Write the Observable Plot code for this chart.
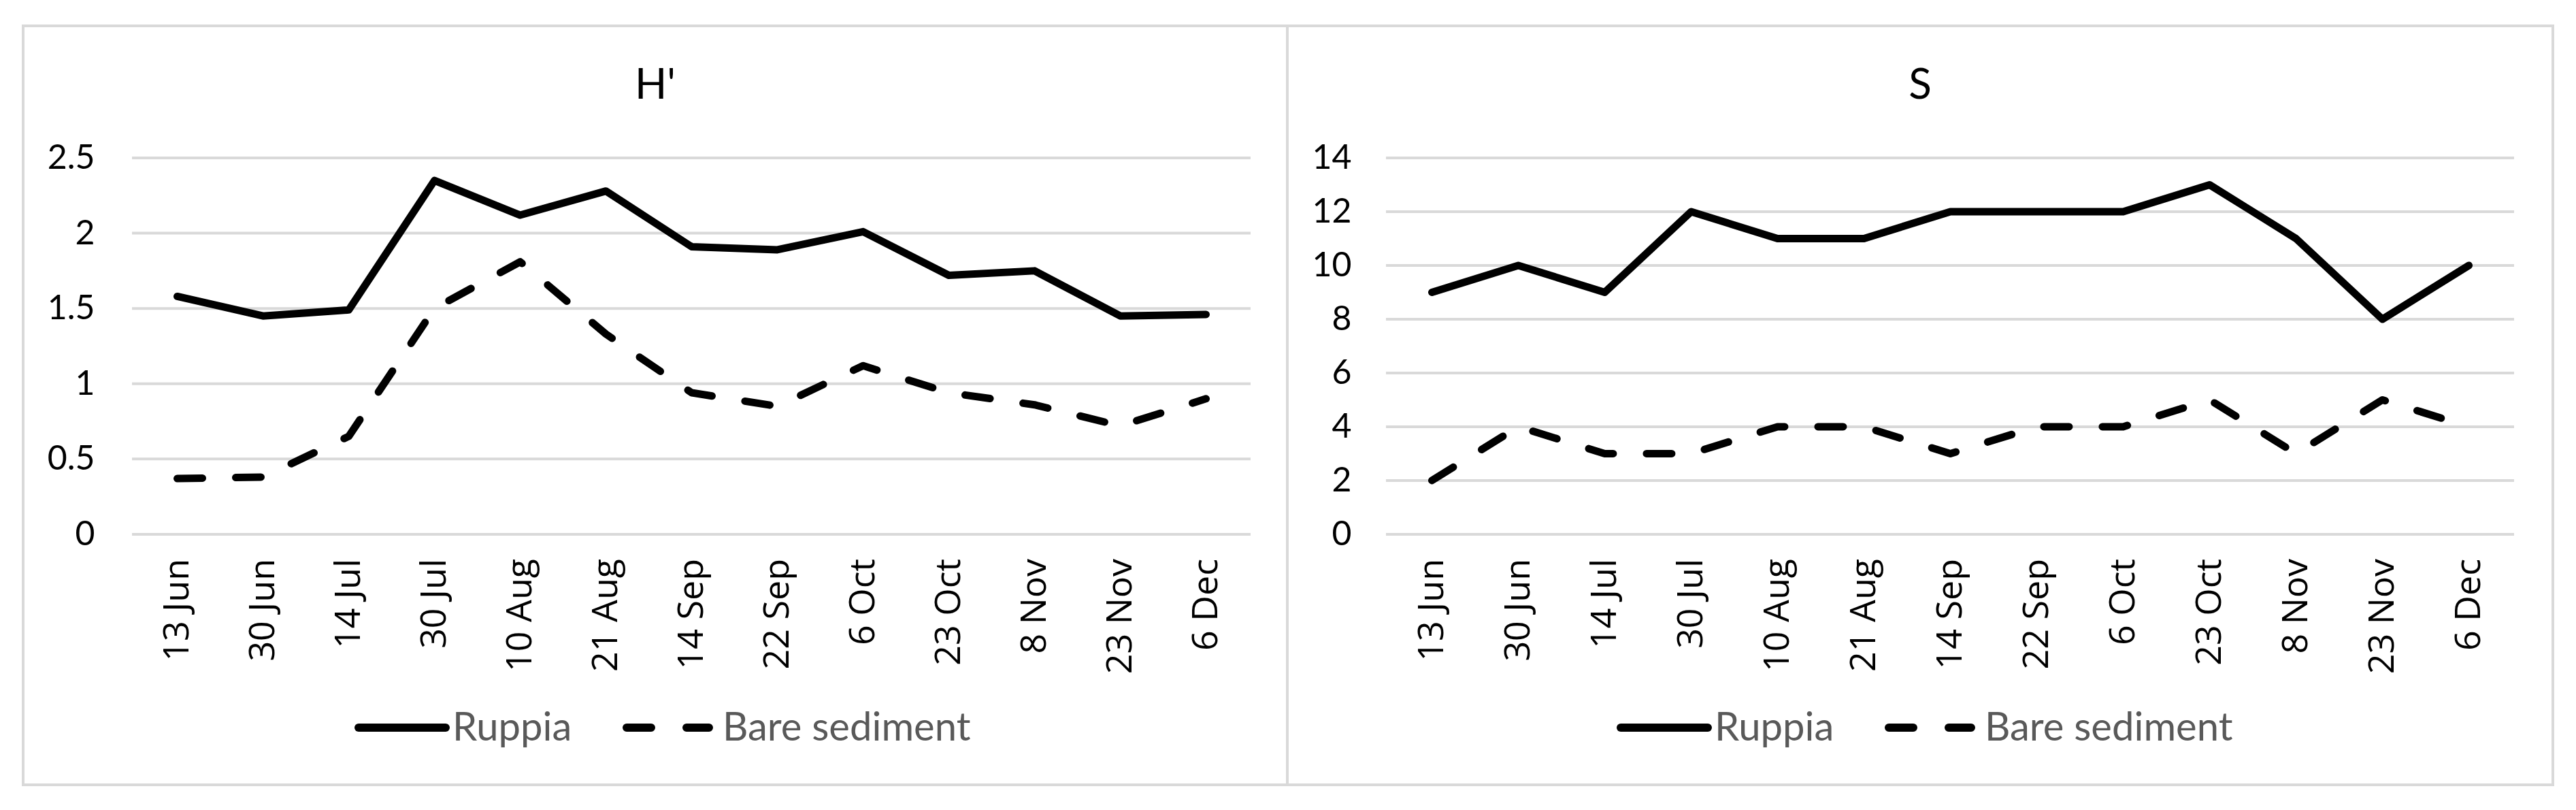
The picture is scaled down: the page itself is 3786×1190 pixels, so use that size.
<!DOCTYPE html>
<html><head><meta charset="utf-8">
<script src="https://cdn.jsdelivr.net/npm/d3@7"></script>
<script src="https://cdn.jsdelivr.net/npm/@observablehq/plot@0.6"></script>
<style>
html,body{margin:0;padding:0;background:#fff;}
body{width:3786px;height:1190px;position:relative;overflow:hidden;}
.panel{position:absolute;box-sizing:border-box;border:4px solid #d9d9d9;}
.title{position:absolute;font-family:Lato;font-size:62px;line-height:62px;color:#000;white-space:nowrap;transform:translateX(-50%);}
.plotbox{position:absolute;}
.leg{position:absolute;font-family:Lato;font-size:58px;line-height:58px;color:#595959;white-space:nowrap;}
.sw{position:absolute;overflow:visible;}
</style></head><body>
<script>
// ---- data ----
const dates = ["13 Jun","30 Jun","14 Jul","30 Jul","10 Aug","21 Aug","14 Sep","22 Sep","6 Oct","23 Oct","8 Nov","23 Nov","6 Dec"];
const seriesNames = ["Ruppia","Bare sediment"];
const hRuppia = [1.58,1.45,1.49,2.35,2.12,2.28,1.91,1.89,2.01,1.72,1.75,1.45,1.46];
const hBare   = [0.37,0.38,0.65,1.50,1.81,1.33,0.94,0.85,1.12,0.94,0.86,0.72,0.90];
const sRuppia = [9,10,9,12,11,11,12,12,12,13,11,8,10];
const sBare   = [2,4,3,3,4,4,3,4,4,5,3,5,4];
const hTicks = [0,0.5,1,1.5,2,2.5];
const sTicks = [0,2,4,6,8,10,12,14];
const titles = ["H'","S"];

function rows(vals){ return dates.map((d,i)=>({date:d, value:vals[i]})); }

function el(tag, cls, style, text){
  const e = document.createElement(tag);
  if (cls) e.className = cls;
  Object.assign(e.style, style||{});
  if (text!=null) e.textContent = text;
  document.body.appendChild(e);
  return e;
}

// panel frames
el("div","panel",{left:"32px",top:"36px",width:"1862px",height:"1119px"});
el("div","panel",{left:"1890px",top:"36px",width:"1864px",height:"1119px"});

const dash = "37 49";

function makePlot(cfg){
  return Plot.plot({
    width: cfg.width, height: 850,
    marginLeft: cfg.ml, marginRight: cfg.mr, marginTop: 71.5, marginBottom: 225.6,
    style: {background: "transparent", overflow: "visible"},
    x: {type: "point", domain: dates, padding: 0.5, label: null},
    y: {domain: cfg.domain, label: null},
    marks: [
      Plot.ruleY(cfg.ticks, {stroke: "#d9d9d9", strokeWidth: 4}),
      Plot.axisY(cfg.ticks, {tickSize: 0, tickPadding: cfg.tp, fontSize: 50, fontFamily: "Lato", fill: "#000", label: null, tickFormat: d => String(d)}),
      Plot.axisX({tickRotate: -90, tickSize: 0, tickPadding: 36, fontSize: 52, fontFamily: "Open Sans", fill: "#000", label: null}),
      Plot.line(rows(cfg.a), {x: "date", y: "value", stroke: "#000", strokeWidth: 11, strokeLinecap: "round", strokeLinejoin: "round"}),
      Plot.line(rows(cfg.b), {x: "date", y: "value", stroke: "#000", strokeWidth: 11, strokeLinecap: "round", strokeLinejoin: "round", strokeDasharray: dash})
    ]
  });
}

const p1 = makePlot({width:1890, ml:194, mr:52, domain:[0,2.5], ticks:hTicks, tp:55, a:hRuppia, b:hBare});
const b1 = el("div","plotbox",{left:"0px",top:"160px",width:"1890px"});
b1.appendChild(p1);
const p2 = makePlot({width:1896, ml:147, mr:91, domain:[0,14], ticks:sTicks, tp:51, a:sRuppia, b:sBare});
const b2 = el("div","plotbox",{left:"1890px",top:"160px",width:"1896px"});
b2.appendChild(p2);

// titles
el("div","title",{left:"963px",top:"90px"}, titles[0]);
el("div","title",{left:"2822px",top:"90px"}, titles[1]);

// legends
const NS = "http://www.w3.org/2000/svg";
function swatch(x, w, dashed){
  const s = document.createElementNS(NS,"svg");
  s.setAttribute("class","sw");
  s.setAttribute("width", w); s.setAttribute("height", 20);
  s.style.left = x+"px"; s.style.top = (1069-10)+"px";
  const l = document.createElementNS(NS,"line");
  l.setAttribute("x1",6); l.setAttribute("x2",w-6); l.setAttribute("y1",10); l.setAttribute("y2",10);
  l.setAttribute("stroke","#000"); l.setAttribute("stroke-width",12); l.setAttribute("stroke-linecap","round");
  if (dashed) l.setAttribute("stroke-dasharray","36 52");
  s.appendChild(l);
  document.body.appendChild(s);
}
function legend(x0){
  swatch(x0, 140, false);
  el("div","leg",{left:(x0+144)+"px",top:"1036.5px"}, seriesNames[0]);
  swatch(x0+394, 133, true);
  el("div","leg",{left:(x0+541)+"px",top:"1036.5px"}, seriesNames[1]);
}
legend(521);
legend(2376);
</script>
</body></html>
